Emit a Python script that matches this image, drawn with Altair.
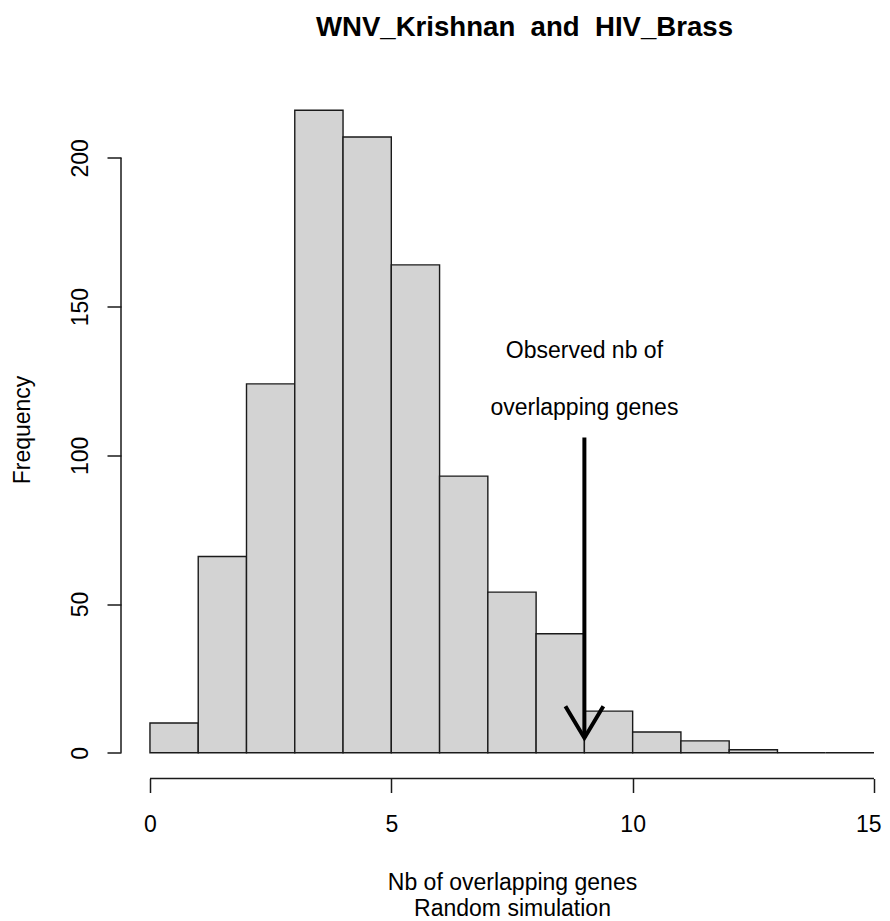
import altair as alt
import pandas as pd

# ---- data ----
bin_starts = list(range(0, 15))
bin_ends = list(range(1, 16))
counts = [10, 66, 124, 216, 207, 164, 93, 54, 40, 14, 7, 4, 1, 0, 0]

x_ticks = [0, 5, 10, 15]
y_ticks = [0, 50, 100, 150, 200]

title_text = "WNV_Krishnan\u00a0 and\u00a0 HIV_Brass"
x_title = ["Nb of overlapping genes", "Random simulation"]
y_title = "Frequency"

observed_x = [9]
arrow_top = [106]
arrow_tip = [5]
note_lines = ["Observed nb of", "overlapping genes"]
note_y = [135, 116]

# ---- layout ----
FONT = "Liberation Sans"
FS = 23
W = 753
H = 694
INK = "#1a1a1a"

xscale = alt.Scale(domain=[-0.6, 15.0], nice=False, zero=False)
yscale = alt.Scale(domain=[-8.64, 224.64], nice=False, zero=False)

bars_df = pd.DataFrame({"start": bin_starts, "end": bin_ends, "count": counts})
yaxis_df = pd.DataFrame({"lo": [min(y_ticks)], "hi": [max(y_ticks)]})
xaxis_df = pd.DataFrame({"lo": [min(x_ticks)], "hi": [max(x_ticks)]})
arrow_df = pd.DataFrame({"x": observed_x, "top": arrow_top, "tip": arrow_tip})
note_df = pd.DataFrame({"x": observed_x * len(note_lines), "y": note_y, "t": note_lines})

bars = alt.Chart(bars_df).mark_rect(
    fill="#d3d3d3", stroke=INK, strokeWidth=1.4
).encode(
    x=alt.X("start:Q", scale=xscale,
            axis=alt.Axis(values=x_ticks, domain=False, grid=False,
                          tickSize=14, tickColor=INK, tickWidth=1.5,
                          labelFont=FONT, labelFontSize=FS, labelColor="black",
                          labelBaseline="alphabetic", labelPadding=39,
                          labelFlush=1, labelFlushOffset=7,
                          labelOverlap=False,
                          title=x_title, titleFont=FONT, titleFontSize=FS,
                          titleFontWeight="normal", titleColor="black",
                          titleLineHeight=26, titleBaseline="alphabetic",
                          titleAnchor="middle", titleX=391, titleY=111)),
    x2="end:Q",
    y=alt.Y("count:Q", scale=yscale,
            axis=alt.Axis(values=y_ticks, domain=False, grid=False,
                          tickSize=14, tickColor=INK, tickWidth=1.5,
                          labelFont=FONT, labelFontSize=FS, labelColor="black",
                          labelAngle=270, labelAlign="center",
                          labelBaseline="alphabetic", labelPadding=19.5,
                          labelOverlap=False,
                          title=y_title, titleFont=FONT, titleFontSize=FS,
                          titleFontWeight="normal", titleColor="black",
                          titleAngle=270, titleAlign="center",
                          titleBaseline="alphabetic",
                          titleX=-92, titleY=345)),
    y2=alt.datum(0),
)

y_domain = alt.Chart(yaxis_df).mark_rule(color=INK, strokeWidth=1.5).encode(
    x=alt.value(0),
    y=alt.Y("lo:Q", scale=yscale),
    y2="hi:Q",
)

x_domain = alt.Chart(xaxis_df).mark_rule(color=INK, strokeWidth=1.5).encode(
    y=alt.value(H),
    x=alt.X("lo:Q", scale=xscale),
    x2="hi:Q",
)

shaft = alt.Chart(arrow_df).mark_rule(color="black", strokeWidth=4).encode(
    x=alt.X("x:Q", scale=xscale),
    y=alt.Y("top:Q", scale=yscale),
    y2="tip:Q",
)

head = alt.Chart(arrow_df).mark_point(
    shape="M-0.6,-1L0,0L0.6,-1", size=4000, filled=False,
    stroke="black", strokeWidth=4, opacity=1
).encode(
    x=alt.X("x:Q", scale=xscale),
    y=alt.Y("tip:Q", scale=yscale),
)

notes = alt.Chart(note_df).mark_text(
    font=FONT, fontSize=FS, color="black", align="center", baseline="middle"
).encode(
    x=alt.X("x:Q", scale=xscale),
    y=alt.Y("y:Q", scale=yscale),
    text="t:N",
)

chart = alt.layer(bars, y_domain, x_domain, shaft, head, notes).properties(
    width=W,
    height=H,
    background="white",
    title=alt.TitleParams(text=title_text, font=FONT, fontSize=27.6,
                          fontWeight="bold", color="black", anchor="middle",
                          frame="group", dx=27, offset=43),
    autosize=alt.AutoSizeParams(type="none"),
    padding={"left": 113, "top": 76.5, "right": 8, "bottom": 142},
).configure_view(stroke=None)

chart.save("out.html", embed_options={"renderer": "svg", "actions": False})
